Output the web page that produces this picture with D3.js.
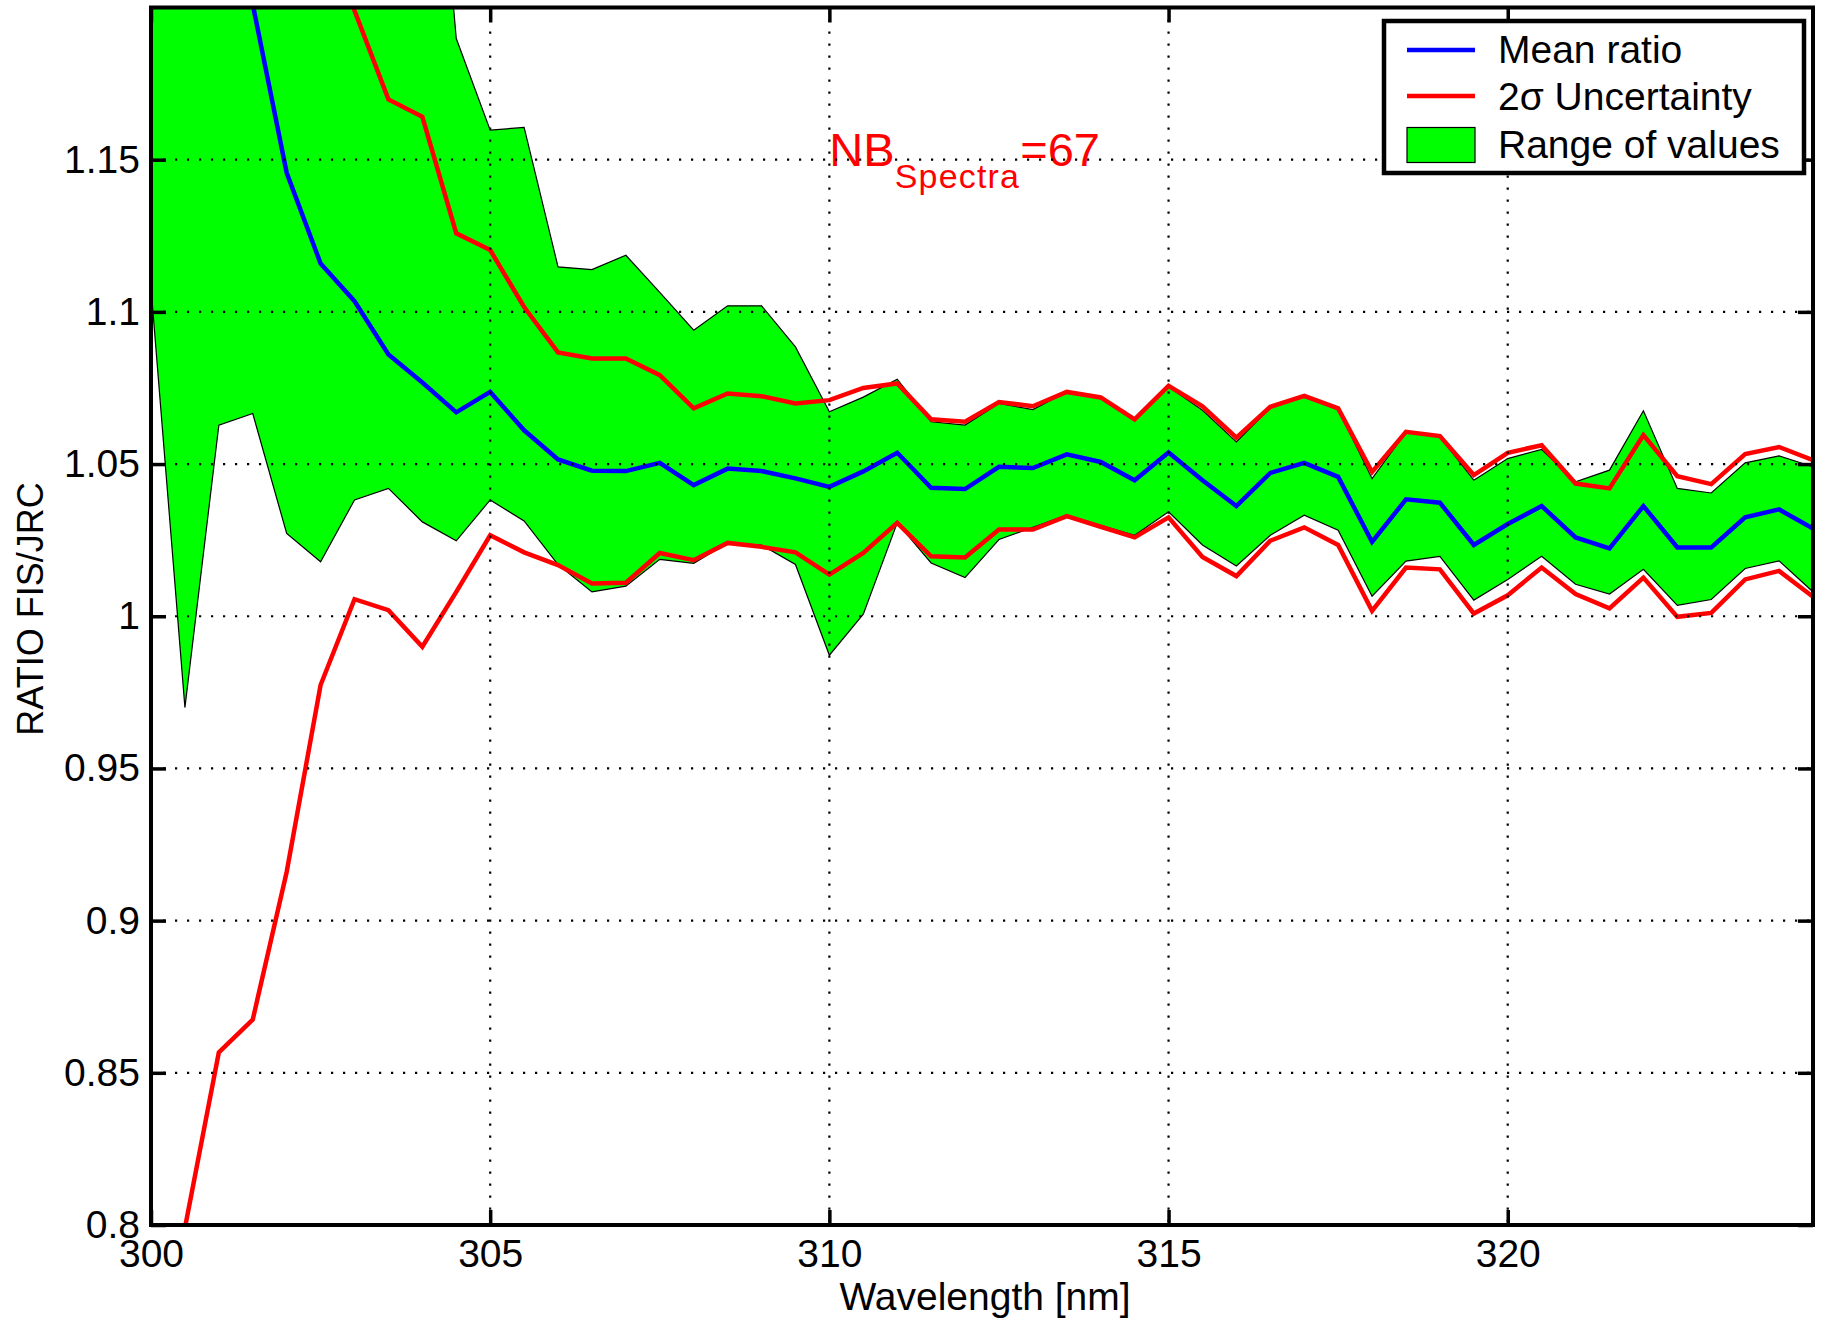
<!DOCTYPE html>
<html>
<head>
<meta charset="utf-8">
<script src="https://cdn.jsdelivr.net/npm/d3@7/dist/d3.min.js"></script>
<style>
	body { margin: 0; background: #fff; }
	text { font-family: "Liberation Sans", Arial, Helvetica, sans-serif; }
</style>
</head>
<body>
<svg id="chart" width="1821" height="1320"></svg>
<script>

// wavelength grid in nm (0.5 nm steps)
var wavelength = [300, 300.5, 301, 301.5, 302, 302.5, 303, 303.5, 304, 304.5,
	305, 305.5, 306, 306.5, 307, 307.5, 308, 308.5, 309, 309.5,
	310, 310.5, 311, 311.5, 312, 312.5, 313, 313.5, 314, 314.5,
	315, 315.5, 316, 316.5, 317, 317.5, 318, 318.5, 319, 319.5,
	320, 320.5, 321, 321.5, 322, 322.5, 323, 323.5, 324, 324.5];

var mean_ratio = [1.40, 1.33, 1.27, 1.201, 1.1457, 1.1159, 1.1035, 1.086, 1.0768, 1.067,
	1.0737, 1.0611, 1.0515, 1.0478, 1.0477, 1.0504, 1.0431, 1.0485, 1.0477, 1.0453,
	1.0425, 1.0476, 1.0537, 1.0422, 1.0418, 1.0491, 1.0487, 1.0532, 1.0507, 1.0447,
	1.0538, 1.0447, 1.0362, 1.0471, 1.0504, 1.0458, 1.0244, 1.0384, 1.0373, 1.0234,
	1.0303, 1.0362, 1.0259, 1.0223, 1.0362, 1.0226, 1.0226, 1.0325, 1.0351, 1.0288];

var sigma_upper = [2.10, 1.86, 1.68, 1.53, 1.375, 1.254, 1.199, 1.1698, 1.1641, 1.1258,
	1.1203, 1.1016, 1.0867, 1.0847, 1.0847, 1.0792, 1.0683, 1.0732, 1.0723, 1.0699,
	1.071, 1.075, 1.0765, 1.0647, 1.0639, 1.0704, 1.069, 1.0737, 1.0719, 1.0647,
	1.0757, 1.069, 1.0587, 1.0688, 1.0724, 1.0683, 1.0474, 1.0606, 1.0592, 1.0464,
	1.0537, 1.0562, 1.0436, 1.042, 1.0595, 1.046, 1.0434, 1.0533, 1.0556, 1.0513];

var sigma_lower = [0.70, 0.799, 0.8567, 0.8675, 0.916, 0.9774, 1.0056, 1.002, 0.990, 1.008,
	1.0266, 1.021, 1.0168, 1.0108, 1.011, 1.0208, 1.0184, 1.0241, 1.0228, 1.021,
	1.0137, 1.0208, 1.0307, 1.0197, 1.0193, 1.0285, 1.0285, 1.0329, 1.0294, 1.0259,
	1.0325, 1.0195, 1.0132, 1.0248, 1.0292, 1.0234, 1.0018, 1.016, 1.0154, 1.0009,
	1.0069, 1.016, 1.0073, 1.0026, 1.0127, 0.9998, 1.0011, 1.0121, 1.0149, 1.0064];

var range_max = [1.45, 1.44, 1.42, 1.40, 1.38, 1.36, 1.34, 1.33, 1.317, 1.1898,
	1.1597, 1.1606, 1.1148, 1.1139, 1.1186, 1.1064, 1.094, 1.102, 1.102, 1.0885,
	1.0672, 1.072, 1.0779, 1.0639, 1.0628, 1.0699, 1.0679, 1.0737, 1.0715, 1.0644,
	1.0754, 1.0677, 1.0573, 1.0685, 1.072, 1.068, 1.0452, 1.0604, 1.059, 1.0447,
	1.0518, 1.0548, 1.0442, 1.048, 1.0675, 1.042, 1.0405, 1.0504, 1.0527, 1.0491];

var range_min = [1.108, 0.970, 1.0628, 1.0666, 1.0272, 1.0179, 1.0382, 1.042, 1.031, 1.0248,
	1.0382, 1.0313, 1.017, 1.008, 1.0099, 1.0187, 1.0174, 1.0241, 1.0234, 1.017,
	0.9872, 1.0007, 1.0307, 1.0175, 1.0127, 1.0252, 1.0292, 1.0332, 1.0299, 1.0266,
	1.0343, 1.0234, 1.0165, 1.0266, 1.0332, 1.0283, 1.0066, 1.0181, 1.0197, 1.0053,
	1.0121, 1.0197, 1.0105, 1.0073, 1.0154, 1.0036, 1.0055, 1.0157, 1.0182, 1.008];

var x_ticks = [300, 305, 310, 315, 320];
var y_ticks = [0.8, 0.85, 0.9, 0.95, 1, 1.05, 1.1, 1.15];

var legend_labels = ["Mean ratio", "2\u03c3 Uncertainty", "Range of values"];
var note_pos = [310, 1.148];
var note_count = 67;

var svg = d3.select("#chart");

// plot box in pixels (note: "top" is reserved on window, so prefix these)
var box_left = 151, box_right = 1813, box_top = 7.5, box_bottom = 1225;

var x = d3.scaleLinear()
		.domain([300, 324.5])
		.range([box_left, box_right]);
var y = d3.scaleLinear()
		.domain([0.8, 1.2])
		.range([box_bottom, box_top]);

var rows = wavelength.map(function(w, i){
	return {w: w, mean: mean_ratio[i], up: sigma_upper[i], lo: sigma_lower[i],
			max: range_max[i], min: range_min[i]};
});

svg.append("clipPath")
	.attr("id", "plot-clip")
	.append("rect")
	.attr("x", box_left).attr("y", box_top)
	.attr("width", box_right - box_left).attr("height", box_bottom - box_top);

var plot = svg.append("g").attr("clip-path", "url(#plot-clip)");

// green band of min/max values
var band = d3.area()
			.x(function(d){ return x(d.w); })
			.y0(function(d){ return y(d.min); })
			.y1(function(d){ return y(d.max); });

plot.append("path")
	.datum(rows)
	.attr("d", band)
	.attr("fill", "#00ff00")
	.attr("stroke", "#000")
	.attr("stroke-width", 1.2);

function line_of(key){
	return d3.line()
			.x(function(d){ return x(d.w); })
			.y(function(d){ return y(d[key]); });
}

plot.append("path").datum(rows).attr("d", line_of("mean"))
	.attr("fill", "none").attr("stroke", "#0000ff").attr("stroke-width", 4.5);
plot.append("path").datum(rows).attr("d", line_of("up"))
	.attr("fill", "none").attr("stroke", "#ff0000").attr("stroke-width", 4.5);
plot.append("path").datum(rows).attr("d", line_of("lo"))
	.attr("fill", "none").attr("stroke", "#ff0000").attr("stroke-width", 4.5);

// annotation
var note = svg.append("text")
			.attr("x", x(note_pos[0]))
			.attr("y", y(note_pos[1]))
			.attr("fill", "#ff0000")
			.style("font-size", "47px");
note.append("tspan").text("NB");
note.append("tspan").attr("dy", 22).style("font-size", "34px")
	.style("letter-spacing", "1.2px").text("Spectra");
note.append("tspan").attr("dy", -22).text("=" + note_count);

// dotted grid on top
var grid = svg.append("g")
			.attr("stroke", "#000")
			.attr("stroke-width", 2.2)
			.attr("stroke-dasharray", "2.2,9.8");
grid.selectAll(".vgrid")
	.data(x_ticks.filter(function(t){ return x(t) > box_left + 1; }))
	.enter().append("line")
	.attr("x1", x).attr("x2", x)
	.attr("y1", box_top).attr("y2", box_bottom);
grid.selectAll(".hgrid")
	.data(y_ticks.filter(function(t){ return y(t) < box_bottom - 1; }))
	.enter().append("line")
	.attr("y1", y).attr("y2", y)
	.attr("x1", box_left).attr("x2", box_right);

// axes with inward ticks on all four sides
function style_axis(g){
	g.select(".domain").remove();
	g.selectAll(".tick line").attr("stroke", "#000").attr("stroke-width", 3.5);
	g.selectAll(".tick text").attr("fill", "#000").style("font-size", "39px");
}

svg.append("g")
	.attr("transform", "translate(0," + box_bottom + ")")
	.call(d3.axisBottom(x).tickValues(x_ticks).tickSizeInner(-15).tickSizeOuter(0)
		.tickPadding(14).tickFormat(d3.format("d")))
	.call(style_axis);
svg.append("g")
	.attr("transform", "translate(0," + box_top + ")")
	.call(d3.axisTop(x).tickValues(x_ticks).tickSizeInner(-15).tickSizeOuter(0)
		.tickFormat(""))
	.call(style_axis);
svg.append("g")
	.attr("transform", "translate(" + box_left + ",0)")
	.call(d3.axisLeft(y).tickValues(y_ticks).tickSizeInner(-15).tickSizeOuter(0)
		.tickPadding(11).tickFormat(function(d){ return String(d); }))
	.call(style_axis);
svg.append("g")
	.attr("transform", "translate(" + box_right + ",0)")
	.call(d3.axisRight(y).tickValues(y_ticks).tickSizeInner(-15).tickSizeOuter(0)
		.tickFormat(""))
	.call(style_axis);

svg.append("rect")
	.attr("x", box_left).attr("y", box_top)
	.attr("width", box_right - box_left).attr("height", box_bottom - box_top)
	.attr("fill", "none")
	.attr("stroke", "#000")
	.attr("stroke-width", 4);

// axis titles
svg.append("text")
	.attr("x", 985).attr("y", 1310)
	.attr("text-anchor", "middle")
	.style("font-size", "39px")
	.text("Wavelength [nm]");
svg.append("text")
	.attr("transform", "translate(43,609) rotate(-90)")
	.attr("text-anchor", "middle")
	.style("font-size", "36px")
	.text("RATIO FIS/JRC");

// legend
var legend = svg.append("g");
legend.append("rect")
	.attr("x", 1384).attr("y", 21)
	.attr("width", 420).attr("height", 152)
	.attr("fill", "#fff")
	.attr("stroke", "#000")
	.attr("stroke-width", 4.5);

var legend_y = [50, 96, 145];
var legend_base = [63, 110, 158];

legend.append("line")
	.attr("x1", 1407).attr("x2", 1475).attr("y1", legend_y[0]).attr("y2", legend_y[0])
	.attr("stroke", "#0000ff").attr("stroke-width", 4.5);
legend.append("line")
	.attr("x1", 1407).attr("x2", 1475).attr("y1", legend_y[1]).attr("y2", legend_y[1])
	.attr("stroke", "#ff0000").attr("stroke-width", 4.5);
legend.append("rect")
	.attr("x", 1407).attr("y", legend_y[2] - 17.5)
	.attr("width", 68).attr("height", 35)
	.attr("fill", "#00ff00").attr("stroke", "#000").attr("stroke-width", 1.2);

legend.selectAll(".label")
	.data(legend_labels)
	.enter().append("text")
	.attr("x", 1498)
	.attr("y", function(d, i){ return legend_base[i]; })
	.style("font-size", "39px")
	.text(function(d){ return d; });

</script>
</body>
</html>
